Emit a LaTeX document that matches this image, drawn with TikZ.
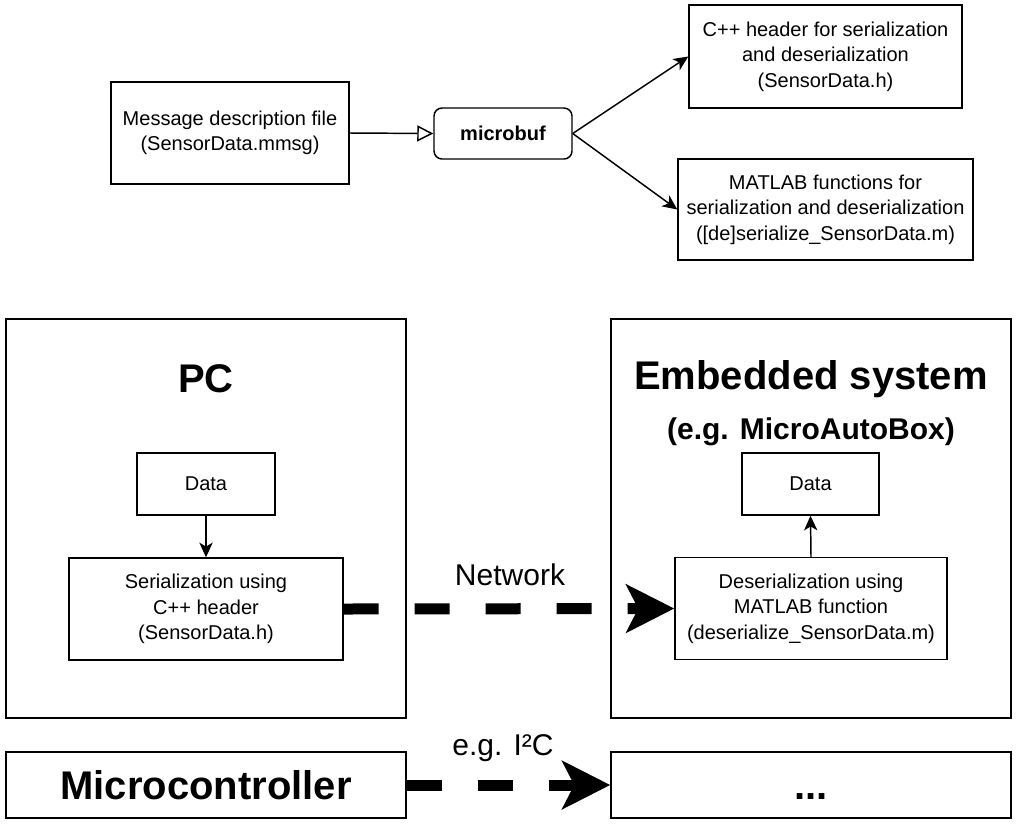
\documentclass[tikz,border=0pt]{standalone}
\usepackage{fontspec}
\setmainfont{Liberation Sans}
\usetikzlibrary{arrows.meta}
\begin{document}
\begin{tikzpicture}[x=0.75pt,y=-0.75pt,
  box/.style 2 args={draw, line width=1.1pt, inner sep=0pt, align=center,
    minimum width=#1*0.75pt, minimum height=#2*0.75pt,
    font=\fontsize{15}{19}\selectfont},
  thin/.style={line width=1.1pt, -{Stealth[length=11pt,width=10pt,inset=3pt]}},
  thick/.style={line width=8.25pt, dash pattern=on 26.25pt off 27pt,
    -{Stealth[length=36pt,width=36pt,inset=9pt]}},
  bigtitle/.style={font=\fontsize{30}{36}\selectfont\bfseries},
  midlabel/.style={font=\fontsize{22.5}{27}\selectfont}
]
\useasboundingbox (0,0) rectangle (1024,833);
% top part
\node[box={238}{102}] (msg) at (230,133) {Message description file\\(SensorData.mmsg)};
\node[box={138}{51}, rounded corners=6pt, font=\fontsize{15}{19}\selectfont\bfseries] (mb) at (503,133.5) {microbuf};
\node[box={273}{103}] (cpp) at (825.5,56.5) {C++ header for serialization\\and deserialization\\(SensorData.h)};
\node[box={295}{101}] (mat) at (825.5,209.5) {MATLAB functions for\\serialization and deserialization\\([de]serialize\_SensorData.m)};
\draw[line width=1.1pt, -{Triangle[open,length=12pt,width=12pt]}] (msg.east) -- (mb.west);
\draw[thin] (mb.east) -- (cpp.west);
\draw[thin] (mb.east) -- (mat.west);
% PC
\node[box={400}{399}] (pc) at (206,518.5) {};
\node[bigtitle] (pct) at (206,379) {PC};
\node[box={138}{62}] (d1) at (206,484) {Data};
\node[box={274}{102}] (ser) at (206,609) {Serialization using\\C++ header\\(SensorData.h)};
\draw[thin] (d1.south) -- (ser.north);
% Embedded
\node[box={400}{399}] (emb) at (811,518.5) {};
\node[bigtitle] (embt) at (811,379) {Embedded system};
\node[font=\fontsize{22.5}{27}\selectfont\bfseries] (embs) at (811,432) {(e.g. MicroAutoBox)};
\node[box={137}{62}] (d2) at (810.5,484) {Data};
\node[box={272}{102}] (des) at (811,608.5) {Deserialization using\\MATLAB function\\(deserialize\_SensorData.m)};
\draw[thin] (des.north) -- (d2.south);
% network
\draw[thick] (ser.east) -- (des.west);
\node[midlabel] (net) at (510,575) {Network};
% bottom
\node[box={400}{66}, font=\fontsize{30}{36}\selectfont\bfseries] (mc) at (206,785) {Microcontroller};
\node[box={400}{66}, font=\fontsize{30}{36}\selectfont\bfseries, text height=22pt, text depth=0pt] (dots) at (811,785) {...};
\draw[thick] (mc.east) -- (dots.west);
\node[midlabel] (i2c) at (503,748) {e.g. I²C};
\end{tikzpicture}
\end{document}
